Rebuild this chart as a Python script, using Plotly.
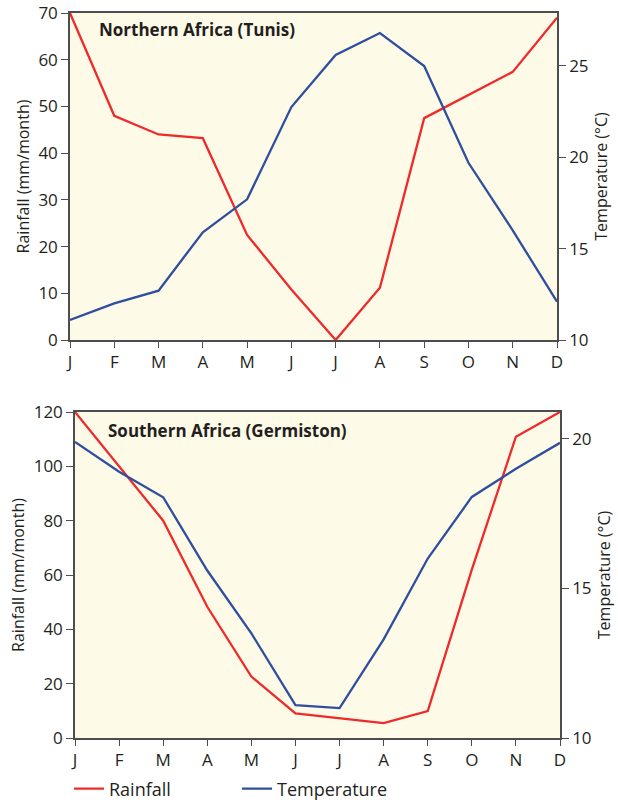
import plotly.graph_objects as go

months = ["J", "F", "M", "A", "M", "J", "J", "A", "S", "O", "N", "D"]
month_idx = list(range(12))

tunis_rain = [70, 48, 44, 43.2, 22.5, 10.8, 0, 11.2, 47.5, 52.5, 57.4, 69]
tunis_temp = [11.1, 12.0, 12.7, 15.9, 17.7, 22.75, 25.6, 26.8, 25.0, 19.7, 16.0, 12.1]

germ_rain = [120, 100, 80, 48.3, 22.6, 9.1, 7.4, 5.5, 9.9, 62, 110.9, 120]
germ_temp = [19.9, 18.9, 18.05, 15.6, 13.5, 11.1, 11.0, 13.3, 16.0, 18.06, 19.0, 19.87]

RED = "#EE2A2A"
BLUE = "#2F4E9E"
BG = "#FEFAE8"
INK = "#231F20"
FONT = "Open Sans"

fig = go.Figure()

fig.add_trace(go.Scatter(x=month_idx, y=tunis_rain, mode="lines", name="Rainfall",
                         line=dict(color=RED, width=2.3), xaxis="x", yaxis="y", showlegend=True))
fig.add_trace(go.Scatter(x=month_idx, y=tunis_temp, mode="lines", name="Temperature",
                         line=dict(color=BLUE, width=2.3), xaxis="x", yaxis="y2", showlegend=True))
fig.add_trace(go.Scatter(x=month_idx, y=germ_rain, mode="lines", name="Rainfall",
                         line=dict(color=RED, width=2.3), xaxis="x2", yaxis="y3", showlegend=False))
fig.add_trace(go.Scatter(x=month_idx, y=germ_temp, mode="lines", name="Temperature",
                         line=dict(color=BLUE, width=2.3), xaxis="x2", yaxis="y4", showlegend=False))

W, H = 618, 800
def fx(px):
    return px / W
def fy(py):
    return 1 - py / H

tick_font = dict(family=FONT, size=17, color=INK)
title_font = dict(family=FONT, size=16, color=INK)

xcommon = dict(tickmode="array", tickvals=month_idx, ticktext=months, range=[0, 11],
               showline=True, linecolor="#4D4D4D", linewidth=1.5, mirror=True,
               ticks="outside", ticklen=6, tickcolor="#4D4D4D", tickwidth=1.2,
               showgrid=False, zeroline=False, tickfont=tick_font, fixedrange=True,
               automargin=False, ticklabeloverflow="allow")
ycommon = dict(showline=True, linecolor="#4D4D4D", linewidth=1.5,
               ticks="outside", ticklen=7, tickcolor="#4D4D4D", tickwidth=1.2,
               showgrid=False, zeroline=False, tickfont=tick_font, fixedrange=True,
               automargin=False, ticklabeloverflow="allow")

fig.update_layout(
    width=W, height=H,
    margin=dict(l=0, r=0, t=0, b=0, autoexpand=False),
    paper_bgcolor="white",
    plot_bgcolor=BG,
    font=dict(family=FONT, color=INK),
    hovermode=False,
    xaxis=dict(domain=[fx(70), fx(557)], anchor="y", **xcommon),
    yaxis=dict(domain=[fy(340), fy(13)], anchor="x", range=[0, 70], dtick=10,
               title=dict(text="Rainfall (mm/month)", font=title_font, standoff=5), **ycommon),
    yaxis2=dict(overlaying="y", side="right", anchor="x", range=[10, 27.9], dtick=5,
                title=dict(text="Temperature (°C)", font=title_font, standoff=8), **ycommon),
    xaxis2=dict(domain=[fx(75), fx(560)], anchor="y3", **xcommon),
    yaxis3=dict(domain=[fy(738), fy(412)], anchor="x2", range=[0, 120], dtick=20,
                title=dict(text="Rainfall (mm/month)", font=title_font, standoff=5), **ycommon),
    yaxis4=dict(overlaying="y3", side="right", anchor="x2", range=[10, 20.9], dtick=5,
                title=dict(text="Temperature (°C)", font=title_font, standoff=8), **ycommon),
    legend=dict(orientation="h", x=fx(69), y=fy(789), xanchor="left", yanchor="middle",
                entrywidth=123, entrywidthmode="pixels",
                font=dict(family=FONT, size=18, color=INK), bgcolor="rgba(0,0,0,0)"),
    annotations=[
        dict(text="<b>Northern Africa (Tunis)</b>", xref="paper", yref="paper",
             x=fx(97), y=fy(29), xanchor="left", yanchor="middle", showarrow=False,
             font=dict(family=FONT, size=17, color=INK)),
        dict(text="<b>Southern Africa (Germiston)</b>", xref="paper", yref="paper",
             x=fx(106), y=fy(431), xanchor="left", yanchor="middle", showarrow=False,
             font=dict(family=FONT, size=17, color=INK)),
    ],
)

# remove the browser's default 8px page margin so the figure sits at the window origin
fig.write_html("out.html",
               config={"displayModeBar": False, "staticPlot": False},
               post_script="document.body.style.margin='0';document.body.style.overflow='hidden';")
